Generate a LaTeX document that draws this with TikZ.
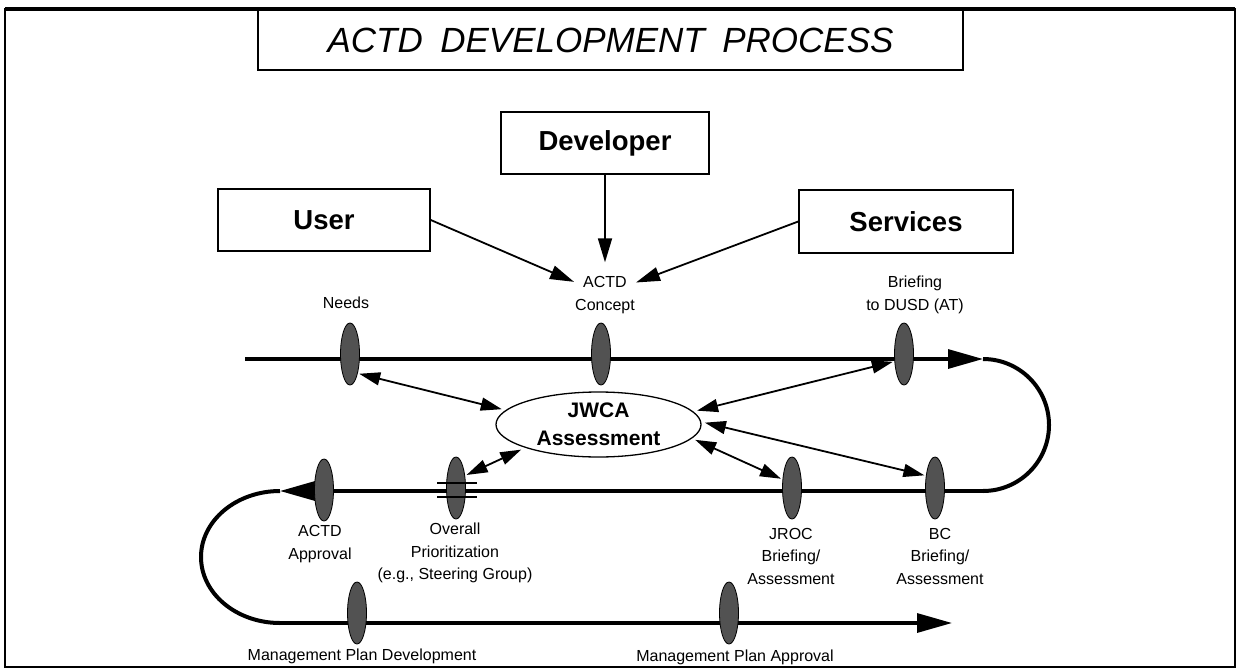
\documentclass[tikz,border=0pt]{standalone}
\usepackage{fontspec}
\setmainfont{Liberation Sans}
\usetikzlibrary{arrows.meta,shapes.geometric,calc}
\begin{document}
\begin{tikzpicture}[x=1pt,y=-1pt,
  actor/.style={draw, line width=1.5pt, inner sep=0pt, font=\fontsize{27.5}{33}\selectfont\bfseries},
  mile/.style={ellipse, draw=black, line width=0.8pt, fill=black!68, minimum width=19pt, minimum height=62pt, inner sep=0pt, outer sep=2pt},
  lbl/.style={align=center, inner sep=1pt, font=\fontsize{16}{22.5}\selectfont},
  track/.style={line width=3.2pt},
  loopline/.style={line width=4pt},
  dbl/.style={line width=1.8pt, {Triangle[length=21pt,width=13pt]}-{Triangle[length=21pt,width=13pt]}},
  barrow/.style={line width=1.8pt, -{Triangle[length=24pt,width=14pt]}},
  bigtip/.style={-{Triangle[length=35pt,width=19pt]}}
]
\useasboundingbox (0,0) rectangle (1236,669);
% frame
\draw[line width=2pt] (5,9) rectangle (1234.5,667);
\draw[line width=3.5pt] (5,9) -- (1234.5,9);
% title
\node[draw, line width=1.5pt, minimum width=705pt, minimum height=60pt, inner sep=0pt,
      font=\fontsize{35}{40}\selectfont\itshape] (title) at (610.5,40) {ACTD\hspace{0.5em}DEVELOPMENT\hspace{0.5em}PROCESS};
% actors
\node[actor, minimum width=212pt, minimum height=62pt] (user) at (324,220) {User};
\node[actor, minimum width=208pt, minimum height=62pt] (developer) at (605,143) {Developer};
\node[actor, minimum width=214pt, minimum height=63pt] (services) at (906,221.5) {Services};
\node[lbl] (actd) at (605,295) {ACTD\\Concept};
\draw[barrow] (user.east) -- (actd.157);
\draw[barrow, shorten >=13pt] (developer.south) -- (actd.north);
\draw[barrow] (services.west) -- (actd.22);
% tracks
\coordinate (t0) at (245,359);
\coordinate (t1) at (983,359);
\coordinate (m0) at (983,491);
\coordinate (m1) at (280,491);
\coordinate (b0) at (280,623);
\coordinate (b1) at (952,623);
\draw[track, bigtip] (t0) -- (t1);
\draw[loopline] (t1) arc[start angle=90, end angle=-90, radius=66pt];
\draw[track, bigtip] (m0) -- (m1);
\draw[loopline] (m1) arc[start angle=90, end angle=270, x radius=79pt, y radius=66pt];
\draw[track, bigtip] (b0) -- (b1);
% milestones
\node[mile] (needs) at (350,354) {};
\node[mile] (concept) at (601,354) {};
\node[mile] (briefing) at (904,354) {};
\node[mile] (approval) at (324,490) {};
\node[mile] (overall) at (456,488) {};
\node[mile] (jroc) at (792,488) {};
\node[mile] (bc) at (935,488) {};
\node[mile] (mpd) at (357,613) {};
\node[mile] (mpa) at (729,613) {};
\draw[line width=2.5pt] ($(overall)+(-19,-5)$) -- ($(overall)+(21,-5)$);
\draw[line width=2.5pt] ($(overall)+(-19,9)$) -- ($(overall)+(21,9)$);
% JWCA
\node[ellipse, draw, line width=1.3pt, fill=white, minimum width=205pt, minimum height=65pt,
      inner sep=0pt, outer sep=4pt, align=center, font=\fontsize{21}{28}\selectfont\bfseries]
      (jwca) at (598.5,424.5) {JWCA\\Assessment};
\draw[dbl] (needs.-65) -- (jwca.171);
\draw[dbl] (overall.51) -- (jwca.-162);
\draw[dbl] (briefing.-145) -- (jwca.8);
\draw[dbl] (jwca.1) -- (bc.130);
\draw[dbl] (jwca.-9) -- (jroc.140);
% labels
\node[lbl] (lneeds) at (346,303) {Needs};
\node[lbl] (lbrief) at (915,295) {Briefing\\to DUSD (AT)};
\node[lbl] (lappr) at (320,544) {ACTD\\Approval};
\node[lbl] (lover) at (455,553) {Overall\\Prioritization\\(e.g., Steering Group)};
\node[lbl] (ljroc) at (791,556) {JROC\\Briefing/\\Assessment};
\node[lbl] (lbc) at (940,556) {BC\\Briefing/\\Assessment};
\node[lbl] (lmpd) at (362,656) {Management Plan Development};
\node[lbl] (lmpa) at (735,657) {Management Plan Approval};
\end{tikzpicture}
\end{document}
